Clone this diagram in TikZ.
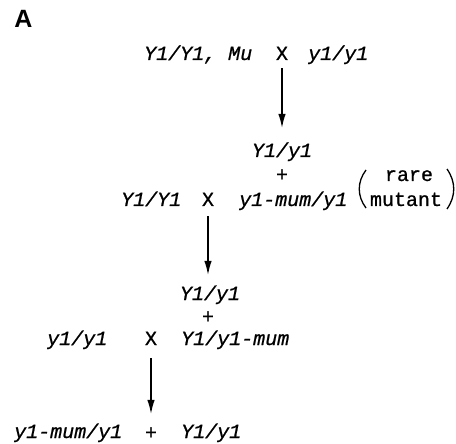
\documentclass[tikz,border=0pt]{standalone}
\usepackage{fontspec}
\newfontfamily\gfont{Liberation Mono}[FakeBold=0.8]
\newfontfamily\labfont{Liberation Sans}
\usetikzlibrary{arrows.meta}
\begin{document}
\begin{tikzpicture}[x=1pt,y=-1pt,
  txt/.style={inner sep=0pt, text height=14pt, text depth=4pt},
  gt/.style={txt, font=\gfont\itshape\fontsize{20}{24}\selectfont},
  op/.style={txt, font=\gfont\fontsize{20}{24}\selectfont},
  cross/.style={-{Latex[length=14pt,width=7.5pt]}, line width=1.2pt},
  paren/.style={line width=1.3pt}]
\useasboundingbox (0,0) rectangle (456,444);
\node[inner sep=0pt, anchor=base, font=\labfont\bfseries\fontsize{25}{28}\selectfont] (lab) at (23.5,28) {A};
% generation 1
\node[gt, anchor=base west] (a1) at (144,60) {Y1/Y1, Mu};
\node[op, anchor=base] (x1) at (282,60) {X};
\node[gt, anchor=base west] (b1) at (308,60) {y1/y1};
% generation 2
\node[gt, anchor=base] (c1) at (282,157) {Y1/y1};
\node[op, anchor=base] (p1) at (282,181) {+};
\node[gt, anchor=base west] (a2) at (121,206) {Y1/Y1};
\node[op, anchor=base] (x2) at (208,206) {X};
\node[gt, anchor=base west] (b2) at (239,206) {y1-mum/y1};
\node[op, anchor=base] (r1) at (409,181) {rare};
\node[op, anchor=base] (r2) at (406,206) {mutant};
\draw[paren] (366,170) .. controls (357,182) and (357,196) .. (366,208);
\draw[paren] (447,169) .. controls (456,182) and (456,196) .. (447,209);
% generation 3
\node[gt, anchor=base] (c2) at (210,300) {Y1/y1};
\node[op, anchor=base] (p2) at (208,323) {+};
\node[gt, anchor=base west] (a3) at (47,345) {y1/y1};
\node[op, anchor=base] (x3) at (151,345) {X};
\node[gt, anchor=base west] (b3) at (181,345) {Y1/y1-mum};
% progeny
\node[gt, anchor=base west] (a4) at (14,438) {y1-mum/y1};
\node[op, anchor=base] (pf) at (151,439) {+};
\node[gt, anchor=base west] (b4) at (181,438) {Y1/y1};
% arrows
\draw[cross, shorten >=15pt, shorten <=4pt] (x1.south) -- (x1.south |- c1.north);
\draw[cross, shorten >=11pt, shorten <=6pt] (x2.south) -- (x2.south |- c2.north);
\draw[cross, shorten >=11pt, shorten <=9pt] (x3.south) -- (x3.south |- pf.north);
\end{tikzpicture}
\end{document}
